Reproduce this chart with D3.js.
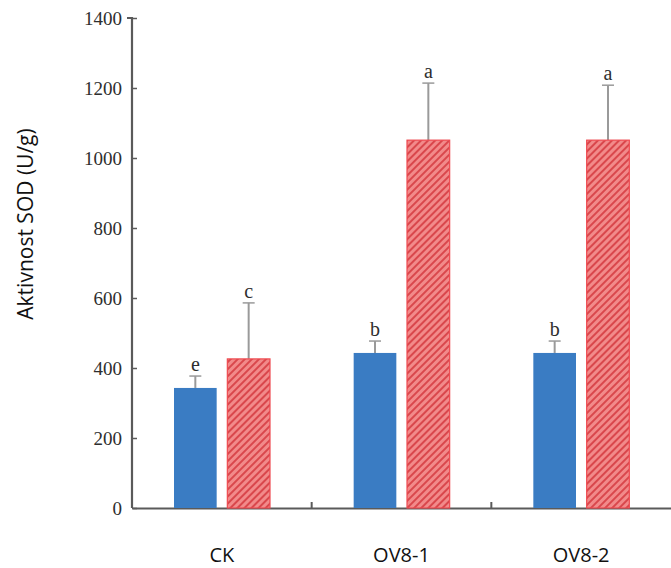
<!DOCTYPE html>
<html>
<head>
<meta charset="utf-8">
<script src="https://cdn.jsdelivr.net/npm/d3@7"></script>
<style>
  body { margin: 0; background: #fff; }
  svg { display: block; }
</style>
</head>
<body>
<div id="chart"></div>
<script>
// data
var categories = ["CK", "OV8-1", "OV8-2"];
var series = ["s1", "s2"];
var blueValues = [343, 443, 443];
var blueErrors = [34, 34, 34];
var redValues = [426, 1051, 1051];
var redErrors = [160, 163, 157];
var blueLetters = ["e", "b", "b"];
var redLetters = ["c", "a", "a"];
var yTicks = [0, 200, 400, 600, 800, 1000, 1200, 1400];

// size setup
var width = 671, height = 568;
var margins = {top: 18, right: 0, bottom: 60, left: 132};
var chartWidth = width - margins.left - margins.right;
var chartHeight = 508 - margins.top;

var svg = d3.select("#chart").append("svg")
    .attr("width", width)
    .attr("height", height);

// hatch pattern for red bars
var defs = svg.append("defs");
var pat = defs.append("pattern")
    .attr("id", "hatch")
    .attr("patternUnits", "userSpaceOnUse")
    .attr("width", 5)
    .attr("height", 5)
    .attr("patternTransform", "rotate(45)");
pat.append("rect")
    .attr("width", 5).attr("height", 5)
    .attr("fill", "#f28a8a");
pat.append("rect")
    .attr("width", 2).attr("height", 5)
    .attr("fill", "#d9474c");

var g = svg.append("g")
    .attr("transform", "translate(" + margins.left + "," + margins.top + ")");

// scales
var xScale = d3.scaleBand().domain(categories).range([0, chartWidth]).padding(0);
var xInner = d3.scaleBand().domain(series).range([42, 138]).paddingInner(0.2);
var yScale = d3.scaleLinear().domain([0, 1400]).range([chartHeight, 0]);

// y axis
var yAxis = d3.axisLeft(yScale).tickValues(yTicks).tickSize(5).tickPadding(5).tickFormat(d3.format("d"));
var axY = g.append("g").attr("class", "y axis").call(yAxis);
axY.select(".domain").attr("stroke", "#5a5a5a").attr("stroke-width", 2.2)
    .attr("d", "M-5," + yScale(1400) + "H0V" + chartHeight);
axY.selectAll(".tick line").attr("stroke", "#5a5a5a").attr("stroke-width", 1.5).attr("x1", 5).attr("x2", 0);
axY.selectAll(".tick text")
    .attr("font-family", "'Liberation Serif', 'DejaVu Serif', serif")
    .attr("font-size", 19)
    .attr("fill", "#2e2e2e");

// x axis
var xAxis = d3.axisBottom(xScale).tickSize(0).tickFormat("");
var axX = g.append("g").attr("class", "x axis")
    .attr("transform", "translate(0," + chartHeight + ")")
    .call(xAxis);
axX.select(".domain").attr("stroke", "#5a5a5a").attr("stroke-width", 2);

// separators between categories
g.selectAll(".sep")
    .data(categories.slice(1))
    .enter().append("line")
    .attr("class", "sep")
    .attr("x1", function(d) { return xScale(d); })
    .attr("x2", function(d) { return xScale(d); })
    .attr("y1", chartHeight)
    .attr("y2", chartHeight - 6)
    .attr("stroke", "#5a5a5a")
    .attr("stroke-width", 2);

// category labels
g.selectAll(".cat")
    .data(categories)
    .enter().append("text")
    .attr("class", "cat")
    .attr("x", function(d) { return xScale(d) + xScale.bandwidth() / 2; })
    .attr("y", chartHeight + 54)
    .attr("text-anchor", "middle")
    .attr("font-family", "'Open Sans', sans-serif")
    .attr("font-size", 20)
    .attr("fill", "#111")
    .text(function(d) { return d; });

// build bar rows
var rows = [];
categories.forEach(function(c, i) {
    rows.push({cat: c, s: "s1", v: blueValues[i], e: blueErrors[i], l: blueLetters[i]});
    rows.push({cat: c, s: "s2", v: redValues[i], e: redErrors[i], l: redLetters[i]});
});

// error bars
var errs = g.selectAll(".err").data(rows).enter().append("g").attr("class", "err");
errs.append("line")
    .attr("x1", function(d) { return xScale(d.cat) + xInner(d.s) + xInner.bandwidth() / 2; })
    .attr("x2", function(d) { return xScale(d.cat) + xInner(d.s) + xInner.bandwidth() / 2; })
    .attr("y1", function(d) { return yScale(d.v); })
    .attr("y2", function(d) { return yScale(d.v + d.e); })
    .attr("stroke", "#9a9a9a")
    .attr("stroke-width", 2);
errs.append("line")
    .attr("x1", function(d) { return xScale(d.cat) + xInner(d.s) + xInner.bandwidth() / 2 - 6; })
    .attr("x2", function(d) { return xScale(d.cat) + xInner(d.s) + xInner.bandwidth() / 2 + 6; })
    .attr("y1", function(d) { return yScale(d.v + d.e); })
    .attr("y2", function(d) { return yScale(d.v + d.e); })
    .attr("stroke", "#9a9a9a")
    .attr("stroke-width", 1.5);
errs.append("text")
    .attr("x", function(d) { return xScale(d.cat) + xInner(d.s) + xInner.bandwidth() / 2; })
    .attr("y", function(d) { return yScale(d.v + d.e) - 5; })
    .attr("text-anchor", "middle")
    .attr("font-family", "'Liberation Serif', 'DejaVu Serif', serif")
    .attr("font-size", 20)
    .attr("fill", "#2e2e2e")
    .text(function(d) { return d.l; });

// bars
g.selectAll(".bar")
    .data(rows)
    .enter().append("rect")
    .attr("class", "bar")
    .attr("x", function(d) { return xScale(d.cat) + xInner(d.s); })
    .attr("y", function(d) { return yScale(d.v); })
    .attr("width", xInner.bandwidth())
    .attr("height", function(d) { return chartHeight - yScale(d.v); })
    .attr("fill", function(d) { return d.s === "s1" ? "#3a7cc3" : "url(#hatch)"; })
    .attr("stroke", function(d) { return d.s === "s1" ? "none" : "#ee4a50"; })
    .attr("stroke-width", 1.2);

// y label
svg.append("text")
    .attr("transform", "translate(33,224) rotate(-90)")
    .attr("text-anchor", "middle")
    .attr("font-family", "'Open Sans', sans-serif")
    .attr("font-size", 21)
    .attr("fill", "#111")
    .text("Aktivnost SOD (U/g)");
</script>
</body>
</html>
